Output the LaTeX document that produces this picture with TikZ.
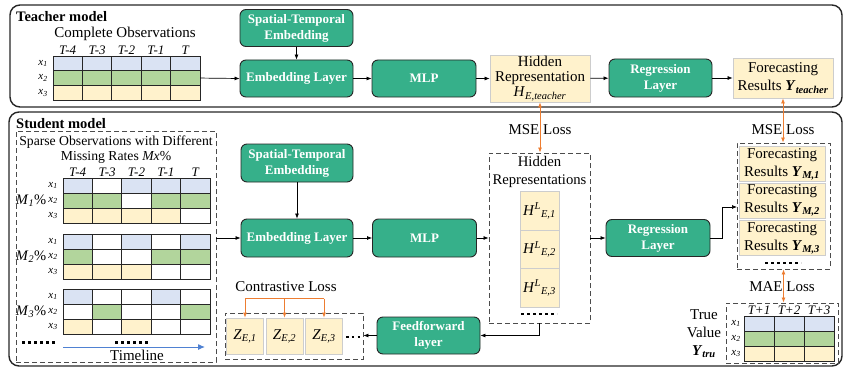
\documentclass[tikz,border=0pt]{standalone}
\usepackage{fontspec}
\setmainfont{Liberation Serif}
\usetikzlibrary{arrows.meta,calc}

\definecolor{gbox}{RGB}{54,176,138}
\definecolor{cblue}{RGB}{218,227,243}
\definecolor{cgreen}{RGB}{178,213,156}
\definecolor{cyell}{RGB}{255,242,204}
\definecolor{ygray}{RGB}{205,205,205}
\definecolor{lossor}{RGB}{237,125,49}
\definecolor{tline}{RGB}{79,129,210}

\tikzset{
  layer/.style={draw=black!85, line width=0.9pt, fill=gbox, rounded corners=6pt,
    text=white, font=\fontsize{13}{16}\selectfont\bfseries, align=center, inner sep=1pt},
  repbox/.style={draw=ygray, line width=0.8pt, fill=cyell, align=center, inner sep=1pt,
    font=\fontsize{15}{18}\selectfont},
  grp/.style={draw=black!70, line width=0.9pt, dash pattern=on 5pt off 3pt},
  frame/.style={draw=black!85, line width=1.4pt, rounded corners=10pt},
  arr/.style={-{Latex[length=5pt,width=4pt]}, line width=0.7pt},
  loss/.style={{Latex[length=5pt,width=4pt]}-{Latex[length=5pt,width=4pt]}, draw=lossor, line width=0.8pt},
  lossone/.style={-{Latex[length=5pt,width=4pt]}, draw=lossor, line width=0.8pt},
  lbl/.style={font=\fontsize{15}{18}\selectfont, inner sep=0pt, align=center},
  title/.style={font=\fontsize{14.5}{16}\selectfont\bfseries, inner sep=0pt},
  hdr/.style={font=\fontsize{13}{14}\selectfont\itshape, inner sep=0pt},
  rowl/.style={font=\fontsize{11}{12}\selectfont\itshape, inner sep=0pt},
  cell/.style={draw=black!85, line width=0.8pt},
  etc/.style={line width=2.6pt, dash pattern=on 2.6pt off 3.4pt},
}

% coloured observation grid: x0, y0, cell width, cell height, rows
\newcommand{\cellgrid}[5]{%
  \foreach \r/\pat in {#5} {%
    \foreach \c [count=\j from 0] in \pat {%
      \filldraw[cell, fill=\c] ({#1+\j*#3},{#2+\r*#4}) rectangle ++(#3,#4);
    }%
  }%
}

\begin{document}
\begin{tikzpicture}[x=1pt,y=-1pt]
\useasboundingbox (0,0) rectangle (843,369);

% ---------------- frames ----------------
\draw[frame] (10,5) rectangle (842,107);
\draw[frame] (9,112) rectangle (842,366);

% ---------------- teacher model ----------------
\node[title, anchor=west] (tTitle) at (16,17) {Teacher model};
\node[lbl] (tObs) at (125,34) {Complete Observations};
\foreach \h [count=\k from 0] in {T-4,T-3,T-2,T-1,T}
  \node[hdr] (tH\k) at ({53+14.7+\k*29.4},50) {\h};
\foreach \k in {1,2,3}
  \node[rowl] (tX\k) at (43,{56+(\k-0.5)*14.7}) {x\textsubscript{\k}};
\cellgrid{53}{56}{29.4}{14.7}{0/{cblue,cblue,cblue,cblue,cblue},1/{cgreen,cgreen,cgreen,cgreen,cgreen},2/{cyell,cyell,cyell,cyell,cyell}}
\node[inner sep=0pt, minimum width=147pt, minimum height=44.1pt] (tGrid) at (126.5,78.05) {};

\node[layer, minimum width=113pt, minimum height=37pt] (tST) at (296.5,28) {Spatial-Temporal\\Embedding};
\node[layer, minimum width=113pt, minimum height=37pt] (tEL) at (296.5,78.5) {Embedding Layer};
\node[layer, minimum width=104pt, minimum height=37pt] (tMLP) at (424,78.5) {MLP};
\node[repbox, minimum width=100pt, minimum height=47pt, font=\fontsize{15}{15}\selectfont] (tHid) at (540,78.5)
  {Hidden\\Representation\\\textit{H}\textsubscript{\textit{E,teacher}}};
\node[layer, minimum width=103pt, minimum height=38pt] (tReg) at (660.5,78) {Regression\\Layer};
\node[repbox, minimum width=100pt, minimum height=40pt] (tFor) at (783,78)
  {Forecasting\\Results \textbf{\textit{Y}\textsubscript{\textit{teacher}}}};

\draw[arr] (tGrid.east) -- (tEL.west);
\draw[arr] (tST) -- (tEL);
\draw[arr] (tEL) -- (tMLP);
\draw[arr] (tMLP) -- (tHid);
\draw[arr] (tHid) -- (tReg);
\draw[arr] (tReg) -- (tFor);

% ---------------- student model ----------------
\node[title, anchor=west] (sTitle) at (16,124) {Student model};

% sparse observations
\node[grp, minimum width=200pt, minimum height=231pt] (sObsGrp) at (116,246.5) {};
\node[lbl, font=\fontsize{13.7}{15}\selectfont] (sObs) at (116,149.5)
  {Sparse Observations with Different\\Missing Rates \textit{Mx}\%};
\foreach \h [count=\k from 0] in {T-4,T-3,T-2,T-1,T}
  \node[hdr] (sH\k) at ({63+14.7+\k*29.4},172) {\h};
\foreach \y [count=\m] in {178,234,289} {
  \foreach \k in {1,2,3}
    \node[rowl] (sX\m\k) at (53,{\y+(\k-0.5)*15}) {x\textsubscript{\k}};
  \node[lbl, font=\fontsize{14.5}{16}\selectfont] (sM\m) at (31,{\y+22.5})
    {\textit{M}\textsubscript{\textit{\m}}\%};
}
\cellgrid{63}{178}{29.4}{15}{0/{cblue,white,cblue,cblue,cblue},1/{cgreen,cgreen,white,cgreen,cgreen},2/{cyell,cyell,cyell,cyell,white}}
\cellgrid{63}{234}{29.4}{15}{0/{cblue,white,cblue,white,cblue},1/{cgreen,white,white,cgreen,cgreen},2/{cyell,cyell,cyell,white,white}}
\cellgrid{63}{289}{29.4}{15}{0/{cblue,white,white,cblue,white},1/{white,cgreen,white,white,cgreen},2/{cyell,white,cyell,white,white}}
\draw[etc] (22,342.5) -- (57,342.5);
\draw[etc] (115,342.5) -- (150,342.5);
\coordinate (tlA) at (63,347);
\coordinate (tlB) at (205,347);
\draw[-{Latex[length=7pt,width=6pt]}, draw=tline, line width=1pt] (tlA) -- (tlB);
\node[lbl] (sTime) at (137,355.5) {Timeline};

% encoder path
\node[layer, minimum width=112pt, minimum height=38pt] (sST) at (297,163) {Spatial-Temporal\\Embedding};
\node[layer, minimum width=112pt, minimum height=38pt] (sEL) at (297,238) {Embedding Layer};
\node[layer, minimum width=104pt, minimum height=38pt] (sMLP) at (424.5,238) {MLP};

% hidden representations
\node[grp, minimum width=101pt, minimum height=170pt] (sHidGrp) at (539.5,238) {};
\node[lbl, font=\fontsize{14.7}{18}\selectfont] (sHidT) at (539.5,172) {Hidden\\Representations};
\foreach \y [count=\k] in {211,249.5,288}
  \node[repbox, minimum width=39pt, minimum height=38.5pt] (sH\k) at (539.5,\y)
    {\textit{H}\textsuperscript{\textit{L}}\textsubscript{\textit{E,\k}}};
\draw[etc] (521,314) -- (557,314);

% regression and forecasts
\node[layer, minimum width=104pt, minimum height=37pt] (sReg) at (658,238) {Regression\\Layer};
\node[grp, minimum width=93pt, minimum height=126pt] (fcGrp) at (783.5,206) {};
\foreach \y [count=\k] in {164,200.5,238}
  \node[repbox, minimum width=86pt, minimum height=35pt] (sF\k) at (782,\y)
    {Forecasting\\Results \textbf{\textit{Y}\textsubscript{\textit{M,\k}}}};
\draw[etc] (765,263) -- (801,263);
\coordinate (fcIn) at (737,207);

% true values
\node[grp, minimum width=112pt, minimum height=60pt] (trGrp) at (782,333) {};
\foreach \h [count=\k from 0] in {T+1,T+2,T+3}
  \node[hdr] (trH\k) at ({744+15+\k*30},310) {\h};
\foreach \k in {1,2,3}
  \node[rowl] (trX\k) at (736,{316+(\k-0.5)*15}) {x\textsubscript{\k}};
\cellgrid{744}{316}{30}{15}{0/{cblue,cblue,cblue},1/{cgreen,cgreen,cgreen},2/{cyell,cyell,cyell}}
\node[lbl] (trLab) at (704,334) {True\\Value\\\textbf{\textit{Y}\textsubscript{\textit{tru}}}};

% contrastive branch
\node[layer, minimum width=103pt, minimum height=37pt] (sFF) at (428.5,335.5) {Feedforward\\layer};
\node[grp, minimum width=138pt, minimum height=46pt] (czGrp) at (294,336) {};
\foreach \x [count=\k] in {245,284.5,324}
  \node[repbox, minimum width=37pt, minimum height=36pt] (z\k) at (\x,336)
    {\textit{Z}\textsubscript{\textit{E,\k}}};
\draw[etc, dash pattern=on 2.6pt off 3.2pt] (346,337) -- (360.5,337);
\node[lbl] (clT) at (286,287) {Contrastive Loss};
\draw[draw=lossor, line width=0.8pt] ($(z1.north)+(0,-19)$) -- ($(z3.north)+(0,-19)$);
\foreach \k in {1,2,3}
  \draw[lossone] ($(z\k.north)+(0,-19)$) -- (z\k.north);

% connectors
\draw[arr] (sObsGrp.east |- sEL.west) -- (sEL.west);
\draw[arr] (sST) -- (sEL);
\draw[arr] (sEL) -- (sMLP);
\draw[arr] (sMLP.east) -- (sHidGrp.west |- sMLP.east);
\draw[arr] (sHidGrp.east |- sReg.west) -- (sReg.west);
\draw[arr] (sReg.east) -- ++(12,0) |- (fcIn);
\draw[arr] (sHidGrp.south) |- (sFF.east);
\draw[arr] (sFF.west) -- (czGrp.east |- sFF.west);

% losses
\node[lbl] (mse1) at (540,130) {MSE Loss};
\node[lbl] (mse2) at (783,130) {MSE Loss};
\node[lbl] (mae) at (782,287) {MAE Loss};
\draw[loss] (tHid.south) -- (tHid.south |- sHidGrp.north);
\draw[loss] (tFor.south) -- (tFor.south |- fcGrp.north);
\draw[loss] (fcGrp.south) -- (fcGrp.south |- trGrp.north);
\end{tikzpicture}
\end{document}
